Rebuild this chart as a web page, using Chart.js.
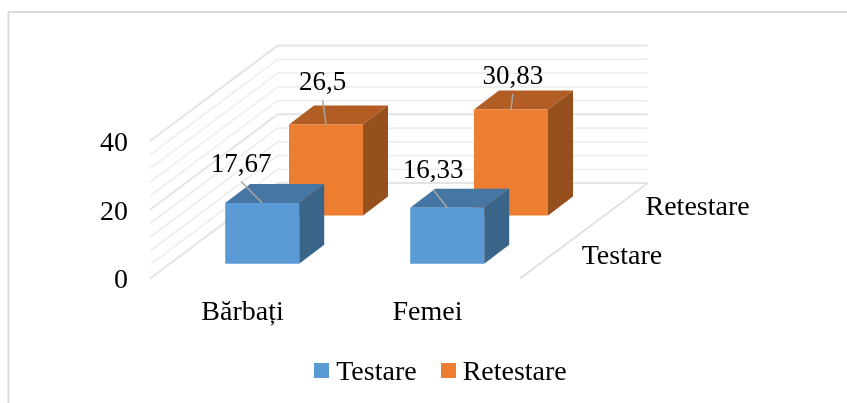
<!DOCTYPE html>
<html>
<head>
<meta charset="utf-8">
<style>
  html, body { margin: 0; padding: 0; background: #fff; }
  #wrap { width: 847px; height: 403px; }
</style>
<script src="https://cdn.jsdelivr.net/npm/chart.js@4"></script>
</head>
<body>
<div id="wrap"><canvas id="grafic"></canvas></div>
<script>
const categorii = ["Bărbați", "Femei"];
const testare = [17.67, 16.33];
const retestare = [26.5, 30.83];
const etichetaTestare = "Testare";
const etichetaRetestare = "Retestare";
const valoriAfisate = [["17,67", "16,33"], ["26,5", "30,83"]];

const FONT = "'Liberation Serif', 'Times New Roman', serif";
const FONT_SIZE = 28;
const FONT_VALORI = 27;

// how far each row sits back from the front edge of the floor
const podea = { x: 127.7, y: 95.4 };
const rand = [{ x: 19.7, y: 14.7 }, { x: 83.5, y: 63 }];
const adancime = { x: 25, y: 19 };

// shade colours for the box faces
const fete = [
    { top: "#4676A3", side: "#3B6588" },
    { top: "#B25D24", side: "#96501D" }
];

// data label placement relative to the bar's top centre: [dx, text dy, line start dy]
const pozEtichete = [
    [[-21, -38.5, -21.6], [-14, -36.5, -18]],
    [[-3.3, -42, -24.3], [1.9, -32.5, -15.7]]
];

// the swatch is taller than its square so the square sits level with the text
function patrat(culoare) {
    const c = document.createElement("canvas");
    c.width = 15;
    c.height = 20;
    const x = c.getContext("2d");
    x.fillStyle = culoare;
    x.fillRect(0, 0, 15, 15);
    return c;
}

function poligon(ctx, puncte, culoare) {
    ctx.fillStyle = culoare;
    ctx.beginPath();
    puncte.forEach((p, i) => i ? ctx.lineTo(p[0], p[1]) : ctx.moveTo(p[0], p[1]));
    ctx.closePath();
    ctx.fill();
}

const perete = {
    id: "perete",
    afterUpdate(chart) {
        // value labels sit a little under their gridline
        chart.scales.y.getLabelItems().forEach(it => { it.options.translation[1] += 2.5; });
    },
    beforeDatasetsDraw(chart) {
        const ctx = chart.ctx;
        const a = chart.chartArea;
        const y = chart.scales.y;

        // outer frame, only top and left are inside the crop
        ctx.save();
        ctx.strokeStyle = "#DCDCDC";
        ctx.lineWidth = 2;
        ctx.beginPath();
        ctx.moveTo(8.5, 403);
        ctx.lineTo(8.5, 12);
        ctx.lineTo(847, 12);
        ctx.stroke();

        y.ticks.forEach((t, i) => {
            const py = y.getPixelForValue(t.value);
            ctx.strokeStyle = "#E4E4E4";
            ctx.lineWidth = i % 5 == 0 ? 2 : 1.6;
            if (i % 5 != 0) ctx.strokeStyle = "#EEEEEE";
            ctx.beginPath();
            ctx.moveTo(a.left, py);
            ctx.lineTo(a.left + podea.x, py - podea.y);
            ctx.lineTo(a.right + podea.x, py - podea.y);
            ctx.stroke();
        });

        // right edge of the floor
        ctx.strokeStyle = "#DEDEDE";
        ctx.lineWidth = 1.6;
        ctx.beginPath();
        ctx.moveTo(a.right, a.bottom);
        ctx.lineTo(a.right + podea.x, a.bottom - podea.y);
        ctx.stroke();

        // names of the depth axis
        ctx.fillStyle = "#000";
        ctx.font = FONT_SIZE + "px " + FONT;
        ctx.textAlign = "left";
        ctx.textBaseline = "middle";
        [etichetaTestare, etichetaRetestare].forEach((txt, i) => {
            ctx.fillText(txt, a.right + rand[i].x + 42, a.bottom - rand[i].y - 7.5);
        });
        ctx.restore();
    },
    beforeDatasetDraw(chart, args) {
        const ctx = chart.ctx;
        const d = rand[args.index];
        const f = fete[args.index];
        ctx.save();
        ctx.translate(d.x, -d.y);
        args.meta.data.forEach(bar => {
            const st = bar.x - bar.width / 2;
            const dr = bar.x + bar.width / 2;
            poligon(ctx, [[st, bar.y], [st + adancime.x, bar.y - adancime.y], [dr + adancime.x, bar.y - adancime.y], [dr, bar.y]], f.top);
            poligon(ctx, [[dr, bar.y], [dr + adancime.x, bar.y - adancime.y], [dr + adancime.x, bar.base - adancime.y], [dr, bar.base]], f.side);
        });
    },
    afterDatasetDraw(chart, args) {
        const ctx = chart.ctx;
        args.meta.data.forEach((bar, i) => {
            const p = pozEtichete[args.index][i];
            ctx.strokeStyle = "#A6A6A6";
            ctx.lineWidth = 1.5;
            ctx.beginPath();
            ctx.moveTo(bar.x + p[0], bar.y + p[2]);
            ctx.lineTo(bar.x, bar.y);
            ctx.stroke();
            ctx.fillStyle = "#000";
            ctx.font = FONT_VALORI + "px " + FONT;
            ctx.textAlign = "center";
            ctx.textBaseline = "middle";
            ctx.fillText(valoriAfisate[args.index][i], bar.x + p[0], bar.y + p[1]);
        });
        ctx.restore();
    }
};

new Chart(document.getElementById("grafic"), {
    type: "bar",
    data: {
        labels: categorii,
        datasets: [
            { label: etichetaTestare, data: testare, backgroundColor: "#5B9BD5" },
            { label: etichetaRetestare, data: retestare, backgroundColor: "#ED7D31" }
        ]
    },
    options: {
        responsive: true,
        maintainAspectRatio: false,
        animation: false,
        clip: false,
        grouped: false,
        barPercentage: 0.4,
        categoryPercentage: 1,
        layout: { padding: { left: 41, right: 0, top: 141, bottom: 6 } },
        font: { family: FONT },
        scales: {
            x: {
                grid: { display: false },
                border: { display: false },
                ticks: { color: "#000", padding: 9.5, font: { family: FONT, size: FONT_SIZE } },
                afterFit(s) { s.height = 49.5; }
            },
            y: {
                min: 0,
                max: 40,
                grid: { display: false },
                border: { display: false },
                ticks: {
                    stepSize: 4,
                    autoSkip: false,
                    color: "#000",
                    padding: 14,
                    font: { family: FONT, size: FONT_SIZE },
                    callback: v => (v % 20 == 0 ? v : "")
                },
                afterFit(s) { s.width = 109; }
            },
            // empty axis, keeps the room on the right of the floor
            rezerva: {
                position: "right",
                grid: { display: false },
                border: { display: false },
                ticks: { display: false },
                afterFit(s) { s.width = 327; }
            }
        },
        plugins: {
            tooltip: { enabled: false },
            legend: {
                position: "bottom",
                labels: {
                    color: "#000",
                    font: { family: FONT, size: FONT_SIZE },
                    usePointStyle: true,
                    pointStyleWidth: 1,
                    padding: 31,
                    generateLabels(chart) {
                        return chart.data.datasets.map((ds, i) => ({
                            text: ds.label,
                            fontColor: "#000",
                            datasetIndex: i,
                            pointStyle: patrat(ds.backgroundColor),
                            lineWidth: 0
                        }));
                    }
                }
            }
        }
    },
    plugins: [perete]
});
</script>
</body>
</html>
